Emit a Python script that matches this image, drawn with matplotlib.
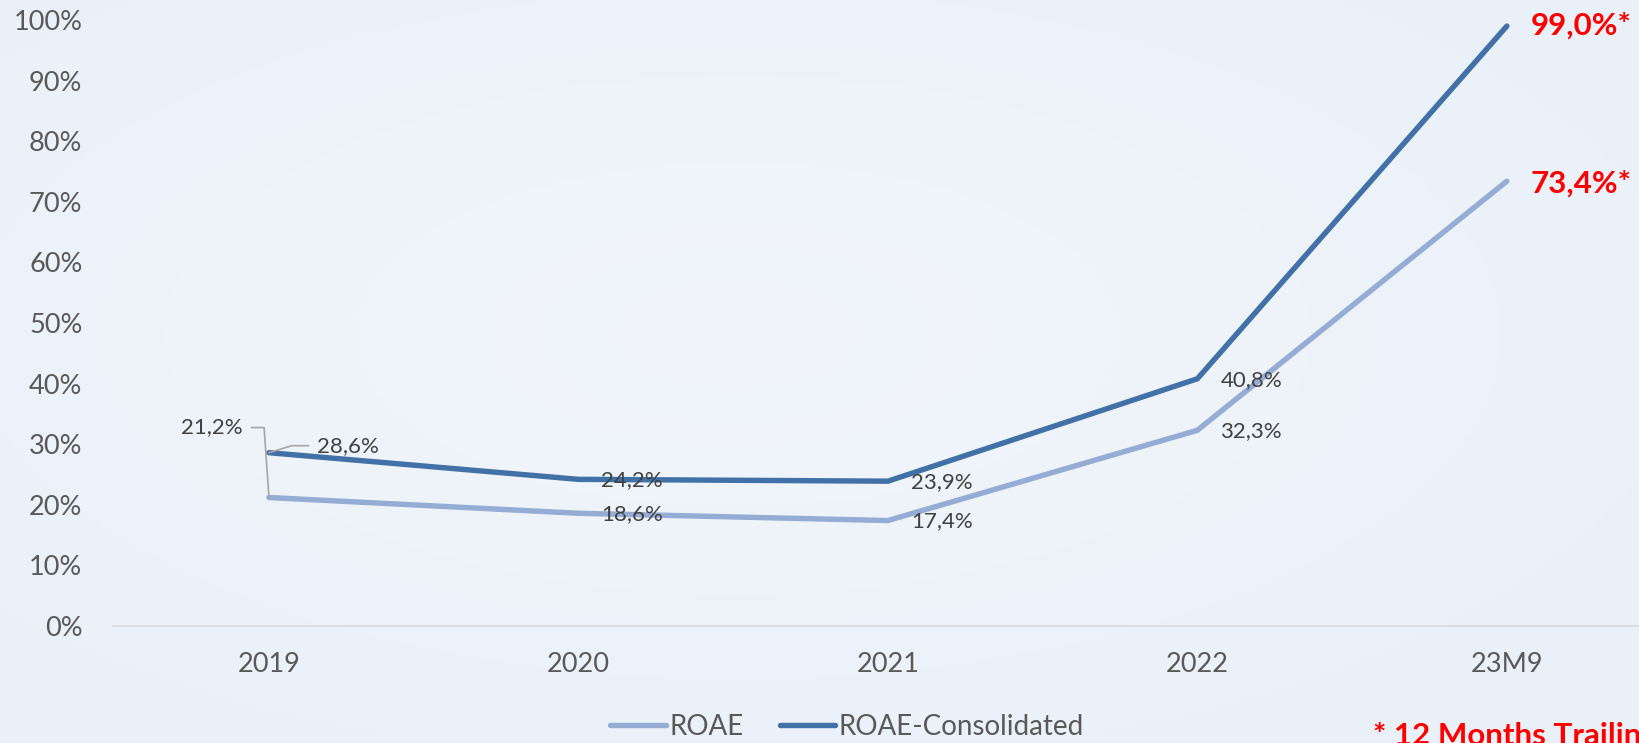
import numpy as np
import matplotlib
matplotlib.use("Agg")
import matplotlib.pyplot as plt
from matplotlib.lines import Line2D

# Data
years = ["2019", "2020", "2021", "2022", "23M9"]
roae = [21.2, 18.6, 17.4, 32.3, 73.4]
roae_consolidated = [28.6, 24.2, 23.9, 40.8, 99.0]
y_ticks = [0, 10, 20, 30, 40, 50, 60, 70, 80, 90, 100]

C_LIGHT = "#95acd5"
C_DARK = "#4271a8"
C_TICK = "#595959"
C_LABEL = "#404040"
C_RED = "#ff0000"
FONT = "Lato"

def pct(v):
    return f"{v:.1f}".replace(".", ",") + "%"

W, H, DPI = 1639, 743, 100
fig = plt.figure(figsize=(W / DPI, H / DPI), dpi=DPI)

# soft radial background
bg = fig.add_axes([0, 0, 1, 1], zorder=-10)
yy, xx = np.mgrid[0:1:200j, 0:1:400j]
r = np.sqrt(((xx - 0.45) / 0.7) ** 2 + ((yy - 0.45) / 0.7) ** 2)
r = np.clip(r, 0, 1)
c_in = np.array([242, 246, 251]) / 255
c_out = np.array([233, 240, 248]) / 255
img = c_in[None, None, :] * (1 - r[..., None]) + c_out[None, None, :] * r[..., None]
bg.imshow(img, aspect="auto", extent=[0, 1, 0, 1])
bg.axis("off")

left = 113 / W
bottom = (H - 626) / H
top = (H - 20) / H
ax = fig.add_axes([left, bottom, 1 - left, top - bottom])
ax.set_facecolor("none")

x = np.arange(len(years))
ax.plot(x, roae, color=C_LIGHT, lw=3.9, solid_capstyle="round",
        solid_joinstyle="round", label="ROAE", zorder=3)
ax.plot(x, roae_consolidated, color=C_DARK, lw=3.9, solid_capstyle="round",
        solid_joinstyle="round", label="ROAE-Consolidated", zorder=3)

ax.set_ylim(0, 100)
ax.set_xlim(-0.504, 4.427)
ax.set_yticks(y_ticks)
ax.set_yticklabels([f"{t}%" for t in y_ticks], fontsize=19.5, color=C_TICK,
                   family=FONT)
ax.set_xticks(x)
ax.set_xticklabels(years, fontsize=19.5, color=C_TICK, family=FONT)
ax.tick_params(axis="y", length=0, pad=22)
ax.tick_params(axis="x", length=0, pad=19)
for s in ["top", "right", "left"]:
    ax.spines[s].set_visible(False)
ax.spines["bottom"].set_color("#d9d9d9")
ax.spines["bottom"].set_linewidth(1.2)

lab_kw = dict(textcoords="offset pixels", fontsize=16, color=C_LABEL,
              family=FONT, va="center", annotation_clip=False)

# labels for 2020-2022, placed to the right of each point
for i in range(1, 4):
    ax.annotate(pct(roae_consolidated[i]), (x[i], roae_consolidated[i]),
                xytext=(23, -1), ha="left", **lab_kw)
    ax.annotate(pct(roae[i]), (x[i], roae[i]),
                xytext=(23, -1), ha="left", **lab_kw)

# 2019 labels with leader lines
leader = dict(arrowstyle="-", color="#a6a6a6", lw=1.2, shrinkA=4, shrinkB=0)
ax.annotate(pct(roae[0]), (x[0], roae[0]), xytext=(-26, 70), ha="right",
            arrowprops=dict(connectionstyle="angle,angleA=0,angleB=94,rad=0",
                            relpos=(1, 0.5), **leader), **lab_kw)
ax.annotate(pct(roae_consolidated[0]), (x[0], roae_consolidated[0]),
            xytext=(48, 7), ha="left",
            arrowprops=dict(connectionstyle="angle,angleA=0,angleB=17,rad=0",
                            relpos=(0, 0.5), **leader), **lab_kw)

# final-period values in bold red
red_kw = dict(textcoords="offset pixels", fontsize=22.5, color=C_RED,
              family=FONT, fontweight="bold", va="center", ha="left",
              annotation_clip=False)
ax.annotate(pct(roae_consolidated[-1]) + "*", (x[-1], roae_consolidated[-1]),
            xytext=(24, 0), **red_kw)
ax.annotate(pct(roae[-1]) + "*", (x[-1], roae[-1]), xytext=(24, -2), **red_kw)

fig.text(1373 / W, (H - 722) / H, "* 12 Months Trailing", fontsize=22.5,
         color=C_RED, family=FONT, fontweight="bold", ha="left",
         va="top")

handles = [Line2D([], [], color=C_LIGHT, lw=3.9, solid_capstyle="round"),
           Line2D([], [], color=C_DARK, lw=3.9, solid_capstyle="round")]
fig.legend(handles, ["ROAE", "ROAE-Consolidated"], loc="center",
           bbox_to_anchor=(847 / W, (H - 727) / H), ncol=2, frameon=False,
           prop={"family": FONT, "size": 20}, labelcolor=C_TICK,
           handlelength=2.0, handletextpad=0.12, columnspacing=1.3,
           borderpad=0)

fig.savefig("out.png", dpi=DPI)
